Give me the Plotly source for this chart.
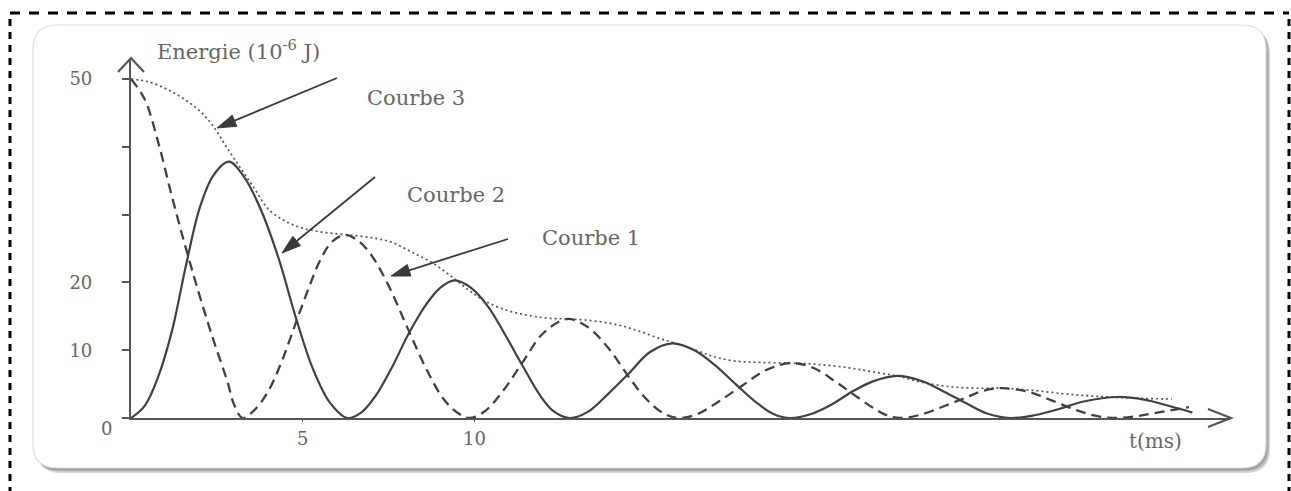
import math
import plotly.graph_objects as go

# --- Energy curves of a damped LC oscillator (t in ms, E in 10^-6 J) ---
# Courbe 1: dashed, starts at the maximum
t_courbe1 = [0, 0.4, 0.8, 1.2, 1.6, 2.0, 2.4, 2.8, 3.0, 3.25,
             3.6, 4.0, 4.4, 4.83, 5.2, 5.5, 5.85, 6.22,
             6.6, 7.0, 7.5, 8.1, 8.6, 9.1, 9.5, 9.85,
             10.3, 10.8, 11.4, 12.0, 12.7, 13.3, 13.9, 14.5, 15.0, 15.5, 15.95,
             16.5, 17.1, 17.8, 18.5, 19.25, 19.9, 20.5, 21.0, 21.6, 22.0, 22.4,
             23.0, 23.7, 24.3, 24.8, 25.35, 26.1, 26.8, 27.5, 28.1, 28.7,
             29.3, 30.0, 30.8]
e_courbe1 = [50, 47.0, 40.5, 32.5, 25, 18, 11.5, 5.5, 2.0, 0,
             1.2, 4.0, 8.5, 14.5, 19.5, 23.2, 26.0, 27,
             26.2, 24, 19.5, 12.7, 7.2, 2.8, 0.8, 0,
             1.0, 3.8, 8.2, 12.5, 14.6, 13.4, 10.3, 6.0, 2.8, 0.7, 0,
             0.6, 2.4, 4.8, 7.1, 8.1, 7.3, 5.4, 3.6, 1.5, 0.4, 0,
             0.5, 1.8, 3.0, 4.0, 4.4, 3.9, 2.6, 1.2, 0.3, 0,
             0.3, 0.9, 1.6]

# Courbe 2: solid, starts at zero
t_courbe2 = [0, 0.4, 0.8, 1.2, 1.6, 2.0, 2.4, 2.85, 3.3, 3.8, 4.3, 4.8, 5.3, 5.8, 6.3,
             6.7, 7.1, 7.6, 8.1, 8.6, 9.0, 9.42, 9.9, 10.4, 10.9, 11.4, 11.9, 12.3, 12.76,
             13.3, 13.9, 14.5, 15.1, 15.76, 16.4, 17.0, 17.6, 18.2, 18.7, 19.2,
             19.8, 20.4, 21.0, 21.6, 22.3, 23.0, 23.7, 24.3, 24.9, 25.6,
             26.3, 27.0, 27.7, 28.75, 29.5, 30.2, 30.9]
e_courbe2 = [0, 1.8, 6.2, 13.0, 22.5, 31.0, 35.8, 37.8, 35.5, 30.5, 23.5, 14.8, 7.2, 2.2, 0,
             0.8, 3.1, 7.5, 12.6, 16.8, 19.2, 20.3, 19.2, 16.4, 12.2, 7.7, 3.4, 1.0, 0,
             0.9, 3.6, 6.6, 9.7, 11.0, 10.0, 7.8, 5.0, 2.3, 0.6, 0,
             0.6, 2.0, 3.9, 5.4, 6.2, 5.5, 3.8, 2.2, 0.7, 0,
             0.4, 1.3, 2.4, 3.1, 2.7, 1.8, 0.8]

# Courbe 3: dotted, total energy
t_courbe3 = [0, 0.5, 1.0, 1.5, 2.0, 2.4, 2.8, 3.2, 3.6, 4.0, 4.5, 5.0, 5.6, 6.3,
             7.0, 7.6, 8.2, 8.8, 9.4, 9.9, 10.4, 11.0, 11.6, 12.2, 12.8,
             13.5, 14.2, 14.8, 15.4, 15.8, 16.5, 17.0, 17.6, 18.3, 19.2,
             20.0, 20.9, 21.6, 22.3, 23.0, 23.7, 24.5, 25.35, 26.2, 27.1,
             27.8, 28.5, 29.4, 30.3]
e_courbe3 = [50, 49.6, 48.6, 47.2, 45.3, 43.0, 39.8, 36.8, 33.8, 30.8, 29.0, 28.0, 27.4, 27.0,
             26.6, 25.9, 24.4, 22.8, 20.6, 18.6, 17.0, 15.8, 15.1, 14.7, 14.6,
             14.3, 13.7, 12.8, 11.7, 11.1, 9.9, 9.0, 8.4, 8.2, 8.1,
             7.9, 7.4, 6.8, 6.2, 5.3, 4.7, 4.4, 4.4, 4.1, 3.6,
             3.3, 3.1, 2.9, 2.8]

y_tickvals = [10, 20, 50]
y_ticktext = ["10", "20", "50"]
y_minor_ticks = [0, 30, 40]
x_tickvals = [5, 10]
x_ticktext = ["5", "10"]

# --- page geometry (pixels) ---
W, H = 1291, 491
L, R, T, B = 131, 1230, 60, 418   # plot area


def px(x):
    return (x - L) / (R - L)


def py(y):
    return (B - y) / (B - T)


def rounded_rect(x0, y0, x1, y1, r):
    pts = [
        f"M{px(x0 + r)},{py(y0)}",
        f"L{px(x1 - r)},{py(y0)}",
        f"Q{px(x1)},{py(y0)} {px(x1)},{py(y0 + r)}",
        f"L{px(x1)},{py(y1 - r)}",
        f"Q{px(x1)},{py(y1)} {px(x1 - r)},{py(y1)}",
        f"L{px(x0 + r)},{py(y1)}",
        f"Q{px(x0)},{py(y1)} {px(x0)},{py(y1 - r)}",
        f"L{px(x0)},{py(y0 + r)}",
        f"Q{px(x0)},{py(y0)} {px(x0 + r)},{py(y0)}",
        "Z",
    ]
    return " ".join(pts)


def polyline(points, close=False):
    s = "M" + " L".join(f"{px(x)},{py(y)}" for x, y in points)
    return s + (" Z" if close else "")


shapes = []

# card with a soft drop shadow
for dx, dy, col in [(4, 5, "#dadada"), (3, 3.5, "#b8b8b8"), (1.5, 2, "#9c9c9c")]:
    shapes.append(dict(type="path", xref="paper", yref="paper", layer="below",
                       path=rounded_rect(33 + dx, 25 + dy, 1266 + dx, 468 + dy, 24),
                       fillcolor=col, line=dict(width=0)))
shapes.append(dict(type="path", xref="paper", yref="paper", layer="below",
                   path=rounded_rect(33, 25, 1266, 468, 24),
                   fillcolor="white", line=dict(color="#dcdcdc", width=1.2)))

# dashed page border
shapes.append(dict(type="line", xref="paper", yref="paper", layer="below",
                   x0=px(10), y0=py(13), x1=px(1289), y1=py(13),
                   line=dict(color="black", width=3, dash="10px,9px")))
for xb in (10, 1289):
    shapes.append(dict(type="line", xref="paper", yref="paper", layer="below",
                       x0=px(xb), y0=py(19), x1=px(xb), y1=py(500),
                       line=dict(color="black", width=3, dash="7px,6px")))

# open arrowheads on the axes
axis_col = "#555555"
shapes.append(dict(type="path", xref="paper", yref="paper",
                   path=polyline([(118, 72), (131, 58), (144, 72)]),
                   line=dict(color=axis_col, width=2.2)))
shapes.append(dict(type="path", xref="paper", yref="paper",
                   path=polyline([(1208, 409), (1231, 418), (1208, 427)]),
                   line=dict(color=axis_col, width=2.2)))

# pointer arrows from the curve names
arrow_col = "#3a3a3a"


def add_arrow(tail, tip, length=19, half=6):
    (x0, y0), (x1, y1) = tail, tip
    d = math.hypot(x1 - x0, y1 - y0)
    ux, uy = (x1 - x0) / d, (y1 - y0) / d
    bx, by = x1 - ux * length, y1 - uy * length
    shapes.append(dict(type="line", xref="paper", yref="paper",
                       x0=px(x0), y0=py(y0), x1=px(bx), y1=py(by),
                       line=dict(color=arrow_col, width=1.8)))
    shapes.append(dict(type="path", xref="paper", yref="paper",
                       path=polyline([(x1, y1), (bx - uy * half, by + ux * half),
                                      (bx + uy * half, by - ux * half)], close=True),
                       fillcolor=arrow_col, line=dict(color=arrow_col, width=1)))


add_arrow((337, 78), (217, 128))
add_arrow((375, 177), (282, 253))
add_arrow((508, 239), (391, 276))

fig = go.Figure()
line_col = "#414141"
fig.add_trace(go.Scatter(x=t_courbe3, y=e_courbe3, mode="lines", name="Courbe 3",
                         line=dict(color="#555555", width=1.7, dash="2px,3px",
                                   shape="spline", smoothing=1.0)))
fig.add_trace(go.Scatter(x=t_courbe1, y=e_courbe1, mode="lines", name="Courbe 1",
                         line=dict(color=line_col, width=2.3, dash="10px,6px",
                                   shape="spline", smoothing=1.0)))
fig.add_trace(go.Scatter(x=t_courbe2, y=e_courbe2, mode="lines", name="Courbe 2",
                         line=dict(color=line_col, width=2.2,
                                   shape="spline", smoothing=1.0)))

serif = "DejaVu Serif"
txt_col = "#666666"
annotations = [
    dict(text="Energie (10<sup>-6</sup> J)", x=px(155), y=py(50), xanchor="left",
         yanchor="middle", font=dict(size=21)),
    dict(text="Courbe 3", x=px(365), y=py(98), xanchor="left", yanchor="middle",
         font=dict(size=21)),
    dict(text="Courbe 2", x=px(405), y=py(195), xanchor="left", yanchor="middle",
         font=dict(size=21)),
    dict(text="Courbe 1", x=px(540), y=py(238), xanchor="left", yanchor="middle",
         font=dict(size=21)),
    dict(text="t(ms)", x=px(1155), y=py(441), xanchor="center", yanchor="middle",
         font=dict(size=20)),
    dict(text="0", x=px(106), y=py(428), xanchor="center", yanchor="middle",
         font=dict(size=18)),
]
for a in annotations:
    a.update(xref="paper", yref="paper", showarrow=False)
    a["font"].update(family=serif, color=txt_col)

fig.update_layout(
    width=W, height=H,
    margin=dict(l=L, r=W - R, t=T, b=H - B, pad=0),
    paper_bgcolor="white", plot_bgcolor="rgba(0,0,0,0)",
    showlegend=False,
    shapes=shapes, annotations=annotations,
    xaxis=dict(range=[0, (R - L) / 34.35], showgrid=False, zeroline=False,
               showline=True, linecolor=axis_col, linewidth=2.2,
               tickmode="array", tickvals=x_tickvals, ticktext=x_ticktext,
               ticks="outside", ticklen=2, tickcolor=axis_col,
               ticklabelstandoff=1,
               tickfont=dict(family=serif, size=18, color=txt_col)),
    yaxis=dict(range=[0, (B - T) / 6.78], showgrid=False, zeroline=False,
               showline=True, linecolor=axis_col, linewidth=2.2,
               tickmode="array", tickvals=y_tickvals, ticktext=y_ticktext,
               ticks="outside", ticklen=7, tickwidth=1.6, tickcolor=axis_col,
               minor=dict(tickvals=y_minor_ticks, ticks="outside", ticklen=7,
                          tickwidth=1.6, tickcolor=axis_col),
               ticklabelstandoff=26,
               tickfont=dict(family=serif, size=18, color=txt_col)),
)

fig.write_html("out.html")
